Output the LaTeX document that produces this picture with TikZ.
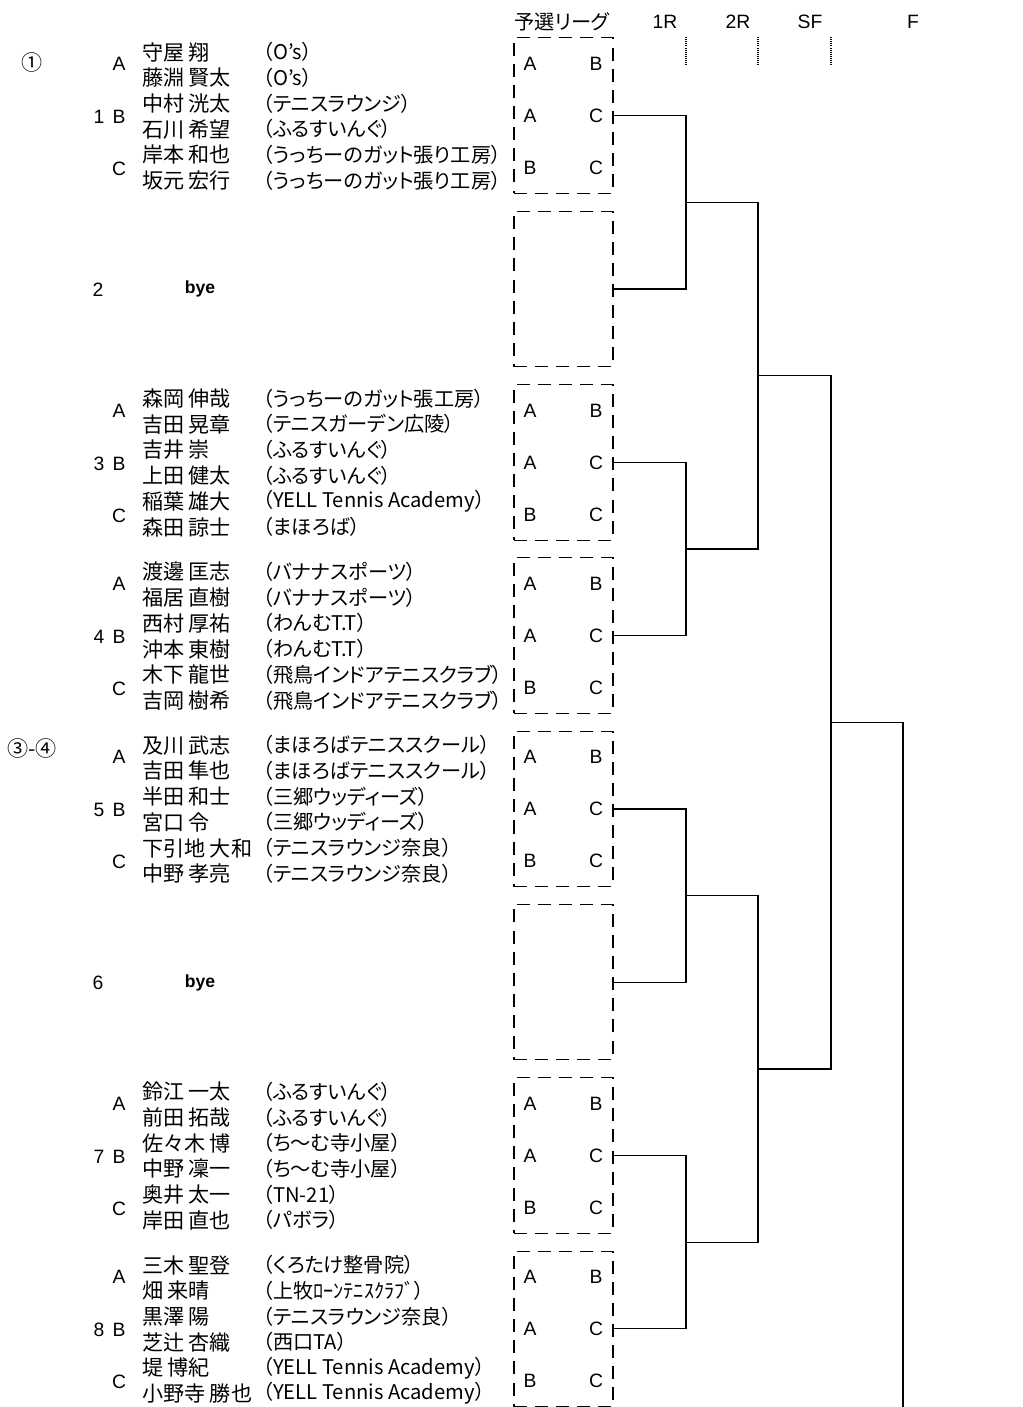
\documentclass[tikz,border=0pt]{standalone}
\usepackage{fontspec}
\setmainfont{Liberation Sans}
\newfontfamily\jpfont{Noto Sans CJK JP}
\newfontfamily\jpprop[RawFeature=+palt]{Noto Sans CJK JP}
\usetikzlibrary{arrows}
\usetikzlibrary{positioning}
\tikzstyle{base}=[remember picture, inner sep=0pt, outer sep=0pt]
\tikzstyle{league}=[draw, line width=0.6pt, dash pattern=on 7.4pt off 4.6pt, minimum width=1.98cm, minimum height=3.11cm]
\tikzstyle{lbl}=[font=\fontsize{11}{13}\selectfont]
\tikzstyle{byetext}=[font=\fontsize{10}{12}\selectfont\bfseries]
\tikzstyle{player}=[anchor=west, font=\jpfont\fontsize{12}{14}\selectfont]
\tikzstyle{club}=[anchor=west, font=\jpprop\fontsize{11.5}{14}\selectfont]
\tikzstyle{seed}=[font=\jpfont\fontsize{12}{14}\selectfont]
\tikzstyle{wire}=[line width=0.7pt]
\tikzstyle{tick}=[line width=0.6pt, dash pattern=on 0.6pt off 0.6pt]

\begin{document}
\begin{tikzpicture}[base, x=0.02cm, y=-0.02cm]
    \path[use as bounding box] (0,0) rectangle (1023,1407);

    % header
    \node[club, anchor=center] (hq) at (562,22) {予選リーグ};
    \node[lbl] (h1) at (665,22) {1R};
    \node[lbl] (h2) at (738,22) {2R};
    \node[lbl] (h3) at (810,22) {SF};
    \node[lbl] (h4) at (913,22) {F};
    \foreach \x in {686,758,831}
        \draw[tick] (\x,37) -- (\x,65);

    % seeds
    \node[seed] (sd1) at (32,62) {①};
    \node[seed] (sd2) at (32,748) {③-④};

    % league boxes
    \foreach \b in {1,...,8}{
        \pgfmathsetmacro{\T}{38+173.3*(\b-1)}
        \node[league] (lg\b) at (563.5,\T+77.7) {};
    }

    % groups
    \foreach \b in {1,3,4,5,7,8}{
        \pgfmathsetmacro{\T}{38+173.3*(\b-1)}
        \node[lbl] (num\b) at (99,\T+79) {\b};
        \node[lbl] (ga\b) at (119,\T+26) {A};
        \node[lbl] (gb\b) at (119,\T+79) {B};
        \node[lbl] (gc\b) at (119,\T+131) {C};
        \node[lbl] (ma\b) at (530,\T+26) {A};
        \node[lbl] (mb\b) at (596,\T+26) {B};
        \node[lbl] (mc\b) at (530,\T+78) {A};
        \node[lbl] (md\b) at (596,\T+78) {C};
        \node[lbl] (me\b) at (530,\T+130) {B};
        \node[lbl] (mf\b) at (596,\T+130) {C};
    }
    \foreach \b in {2,6}{
        \pgfmathsetmacro{\T}{38+173.3*(\b-1)}
        \node[lbl] (num\b) at (98,\T+78) {\b};
        \node[byetext] (bye\b) at (200,\T+78) {bye};
    }

    % players
    \foreach \nm/\cl [count=\k from 0] in {守屋 翔/（O’s）, 藤淵 賢太/（O’s）, 中村 洸太/（テニスラウンジ）, 石川 希望/（ふるすいんぐ）, 岸本 和也/（うっちーのガット張り工房）, 坂元 宏行/（うっちーのガット張り工房）}{
        \node[player] (n1-\k) at (142,52+25.7*\k) {\nm};
        \node[club] (c1-\k) at (263,52+25.7*\k) {\cl};
    }
    \foreach \nm/\cl [count=\k from 0] in {森岡 伸哉/（うっちーのガット張工房）, 吉田 晃章/（テニスガーデン広陵）, 吉井 崇/（ふるすいんぐ）, 上田 健太/（ふるすいんぐ）, 稲葉 雄大/（YELL Tennis Academy）, 森田 諒士/（まほろば）}{
        \node[player] (n3-\k) at (142,398.6+25.7*\k) {\nm};
        \node[club] (c3-\k) at (263,398.6+25.7*\k) {\cl};
    }
    \foreach \nm/\cl [count=\k from 0] in {渡邊 匡志/（バナナスポーツ）, 福居 直樹/（バナナスポーツ）, 西村 厚祐/（わんむT.T）, 沖本 東樹/（わんむT.T）, 木下 龍世/（飛鳥インドアテニスクラブ）, 吉岡 樹希/（飛鳥インドアテニスクラブ）}{
        \node[player] (n4-\k) at (142,571.9+25.7*\k) {\nm};
        \node[club] (c4-\k) at (263,571.9+25.7*\k) {\cl};
    }
    \foreach \nm/\cl [count=\k from 0] in {及川 武志/（まほろばテニススクール）, 吉田 隼也/（まほろばテニススクール）, 半田 和士/（三郷ウッディーズ）, 宮口 令/（三郷ウッディーズ）, 下引地 大和/（テニスラウンジ奈良）, 中野 孝亮/（テニスラウンジ奈良）}{
        \node[player] (n5-\k) at (142,745.2+25.7*\k) {\nm};
        \node[club] (c5-\k) at (263,745.2+25.7*\k) {\cl};
    }
    \foreach \nm/\cl [count=\k from 0] in {鈴江 一太/（ふるすいんぐ）, 前田 拓哉/（ふるすいんぐ）, 佐々木 博/（ち～む寺小屋）, 中野 凜一/（ち～む寺小屋）, 奥井 太一/（TN-21）, 岸田 直也/（パボラ）}{
        \node[player] (n7-\k) at (142,1091.8+25.7*\k) {\nm};
        \node[club] (c7-\k) at (263,1091.8+25.7*\k) {\cl};
    }
    \foreach \nm/\cl [count=\k from 0] in {三木 聖登/（くろたけ整骨院）, 畑 来晴/（上牧ﾛｰﾝﾃﾆｽｸﾗﾌﾞ）, 黒澤 陽/（テニスラウンジ奈良）, 芝辻 杏織/（西口TA）, 堤 博紀/（YELL Tennis Academy）, 小野寺 勝也/（YELL Tennis Academy）}{
        \node[player] (n8-\k) at (142,1265.1+25.7*\k) {\nm};
        \node[club] (c8-\k) at (263,1265.1+25.7*\k) {\cl};
    }

    % bracket
    \coordinate (w1) at (686,202.4);
    \coordinate (w2) at (686,549);
    \coordinate (w3) at (686,895.6);
    \coordinate (w4) at (686,1242.2);
    \coordinate (s1) at (758,375.7);
    \coordinate (s2) at (758,1068.9);
    \coordinate (f1) at (831,722.3);
    \coordinate (fin) at (903,1407);
    \draw[wire] (lg1.east) -| (w1) |- (lg2.east);
    \draw[wire] (lg3.east) -| (w2) |- (lg4.east);
    \draw[wire] (lg5.east) -| (w3) |- (lg6.east);
    \draw[wire] (lg7.east) -| (w4) |- (lg8.east);
    \draw[wire] (w1) -| (s1) |- (w2);
    \draw[wire] (w3) -| (s2) |- (w4);
    \draw[wire] (s1) -| (f1) |- (s2);
    \draw[wire] (f1) -| (fin);
\end{tikzpicture}
\end{document}
